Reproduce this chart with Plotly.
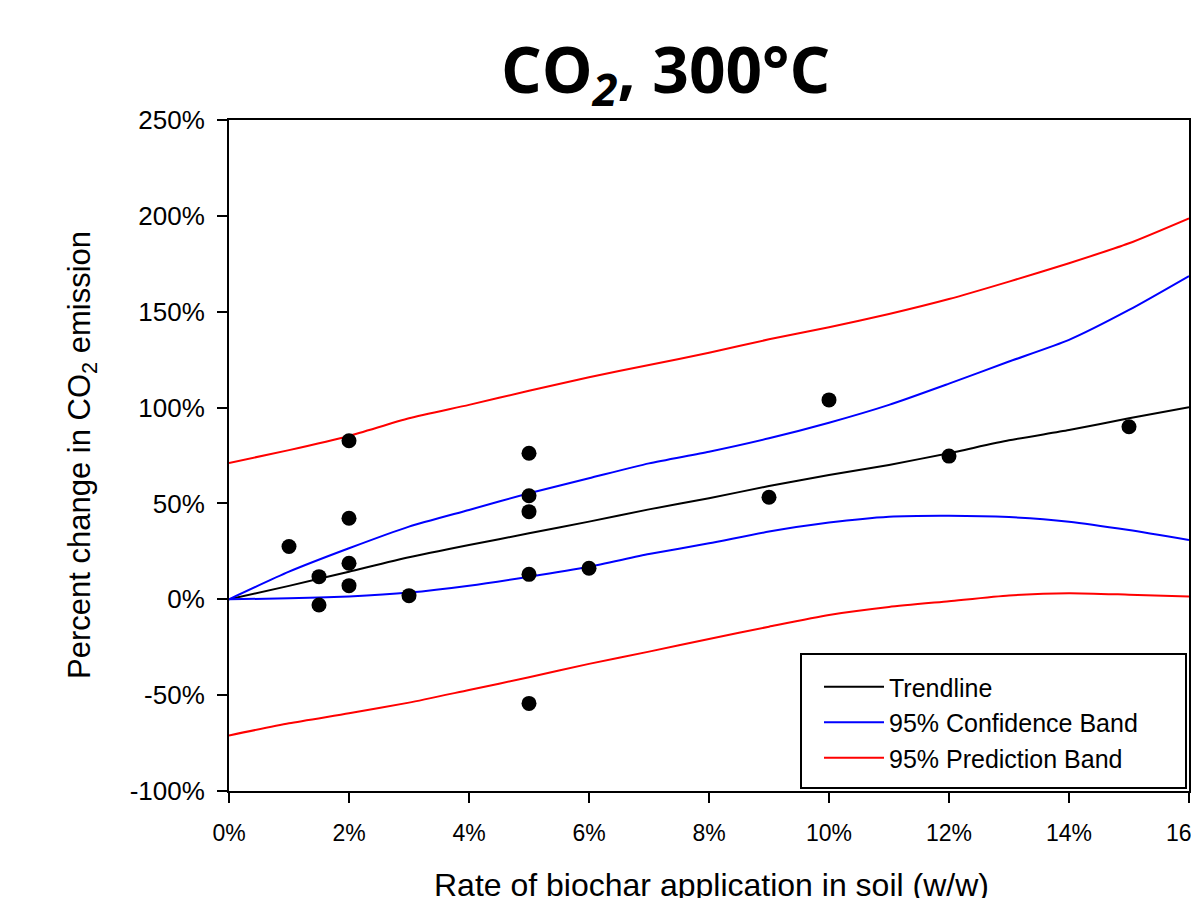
import plotly.graph_objects as go

# ---- data ----
obs_rate = [1, 1.5, 1.5, 2, 2, 2, 2, 3, 5, 5, 5, 5, 5, 6, 9, 10, 12, 15]
obs_change = [27.5, 11.8, -3.0, 82.7, 42.3, 18.8, 7.1, 1.9, 76.2, 54.0, 45.7, 13.0, -54.3, 16.2, 53.2, 104.0, 74.7, 90.0]

grid_rate = [0, 1, 2, 3, 4, 5, 6, 7, 8, 9, 10, 11, 12, 13, 14, 15, 16]
trend = [0, 7.0, 14.4, 21.9, 28.3, 34.4, 40.5, 46.9, 52.7, 59.1, 64.8, 70.1, 76.2, 82.9, 88.3, 94.4, 100.2]
conf_upper = [0, 14.4, 26.6, 37.9, 46.6, 55.3, 63.1, 70.9, 77.0, 84.0, 92.1, 101.4, 112.5, 124.0, 135.3, 150.9, 168.6]
conf_lower = [0, 0.5, 1.5, 3.5, 7.1, 11.8, 17.0, 23.6, 29.2, 35.3, 40.0, 43.1, 43.6, 42.9, 40.5, 36.1, 30.9]
pred_upper = [71.1, 77.8, 85.2, 94.4, 101.4, 108.8, 115.8, 122.2, 128.6, 135.6, 141.9, 148.8, 156.6, 165.7, 175.3, 185.7, 198.7]
pred_lower = [-71.0, -64.7, -59.5, -53.9, -47.3, -40.7, -33.7, -27.3, -20.7, -14.3, -8.2, -4.0, -1.0, 2.0, 3.2, 2.4, 1.4]

x_ticks = [0, 2, 4, 6, 8, 10, 12, 14, 16]
x_tick_text = ["0%", "2%", "4%", "6%", "8%", "10%", "12%", "14%", "16%"]
y_ticks = [-100, -50, 0, 50, 100, 150, 200, 250]
y_tick_text = ["-100%", "-50%", "0%", "50%", "100%", "150%", "200%", "250%"]

# page is 1199x898, body margin 8px -> figure 1191x890
OFF = 8
W, H = 1191, 890
PL, PR, PT, PB = 229, 1189, 120, 791   # plot area in page pixels
L, T = PL - OFF, PT - OFF
R = W - (PR - OFF)
B = H - (PB - OFF)
pw, ph = PR - PL, PB - PT

def px_x(p):
    return (p - PL) / pw

def px_y(p):
    return (PB - p) / ph

fig = go.Figure()
lw = 2
spl = dict(shape="spline", smoothing=0.6)
fig.add_trace(go.Scatter(x=grid_rate, y=trend, mode="lines", name="Trendline",
                         line=dict(color="black", width=lw, **spl)))
fig.add_trace(go.Scatter(x=grid_rate, y=conf_upper, mode="lines", name="95% Confidence Band",
                         legendgroup="conf", line=dict(color="#0000ff", width=lw, **spl)))
fig.add_trace(go.Scatter(x=grid_rate, y=pred_upper, mode="lines", name="95% Prediction Band",
                         legendgroup="pred", line=dict(color="#ff0000", width=lw, **spl)))
fig.add_trace(go.Scatter(x=grid_rate, y=conf_lower, mode="lines", name="95% Confidence Band",
                         legendgroup="conf", showlegend=False,
                         line=dict(color="#0000ff", width=lw, **spl)))
fig.add_trace(go.Scatter(x=grid_rate, y=pred_lower, mode="lines", name="95% Prediction Band",
                         legendgroup="pred", showlegend=False,
                         line=dict(color="#ff0000", width=lw, **spl)))
fig.add_trace(go.Scatter(x=obs_rate, y=obs_change, mode="markers", name="Observed",
                         showlegend=False, cliponaxis=False,
                         marker=dict(color="black", size=15, line=dict(width=0))))

arial = "Liberation Sans, Arial, sans-serif"

fig.update_layout(
    width=W, height=H,
    margin=dict(l=L, r=R, t=T, b=B, autoexpand=False),
    paper_bgcolor="white", plot_bgcolor="white",
    showlegend=True,
    legend=dict(x=px_x(819), y=px_y(664), xanchor="left", yanchor="top",
                bgcolor="rgba(0,0,0,0)", borderwidth=0,
                font=dict(family=arial, size=25, color="black"),
                itemwidth=60, tracegroupgap=0),
    xaxis=dict(range=[0, 16], tickvals=x_ticks, ticktext=x_tick_text,
               showgrid=False, zeroline=False, showline=True, linecolor="black", linewidth=2,
               mirror=True, ticks="outside", ticklen=10, tickwidth=2, tickcolor="black",
               tickfont=dict(family=arial, size=23, color="black"),
               ticklabelstandoff=10, automargin=False, ticklabeloverflow="allow"),
    yaxis=dict(range=[-100, 250], tickvals=y_ticks, ticktext=y_tick_text,
               showgrid=False, zeroline=False, showline=True, linecolor="black", linewidth=2,
               mirror=True, ticks="outside", ticklen=10, tickwidth=2, tickcolor="black",
               tickfont=dict(family=arial, size=26, color="black"),
               ticklabelstandoff=7, automargin=False),
    shapes=[dict(type="rect", xref="paper", yref="paper",
                 x0=px_x(801), x1=px_x(1186), y0=px_y(788), y1=px_y(654),
                 line=dict(color="black", width=2), fillcolor="white", layer="above")],
)

fig.add_annotation(text="CO<sub><i>2</i></sub>, 300°C", xref="paper", yref="paper",
                   x=px_x(665), y=px_y(72), xanchor="center", yanchor="middle", showarrow=False,
                   font=dict(family="Open Sans, Noto Sans, sans-serif", size=64, color="black", weight="bold"))
fig.add_annotation(text="Rate of biochar application in soil (w/w)", xref="paper", yref="paper",
                   x=px_x(711), y=px_y(885), xanchor="center", yanchor="middle", showarrow=False,
                   font=dict(family=arial, size=32, color="black"))
fig.add_annotation(text="Percent change in CO<sub>2</sub> emission", xref="paper", yref="paper",
                   x=px_x(82), y=px_y(455), xanchor="center", yanchor="middle", showarrow=False,
                   textangle=-90,
                   font=dict(family=arial, size=31, color="black"))

fig.write_html("out.html")
